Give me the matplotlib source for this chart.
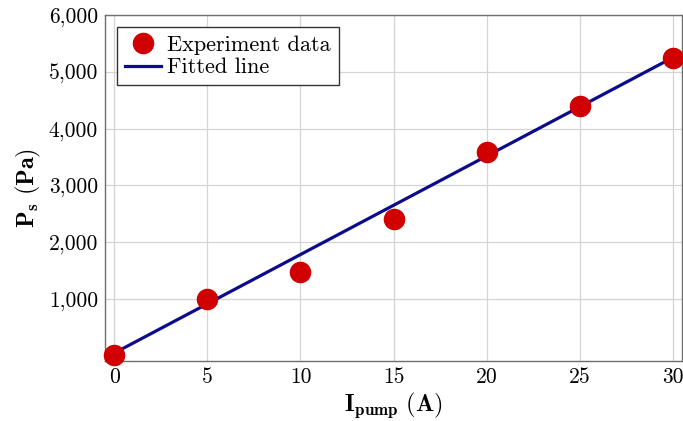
import numpy as np
import matplotlib
matplotlib.use("Agg")
import matplotlib.pyplot as plt
from matplotlib.ticker import FuncFormatter

# Измерения: ток насоса (А) и давление (Па)
current = [0, 5, 10, 15, 20, 25, 30]
pressure = [20, 1000, 1480, 2410, 3580, 4390, 5250]

# Аппроксимирующая прямая (значения на концах)
fit_x = [0, 30]
fit_y = [50, 5250]

x_ticks = [0, 5, 10, 15, 20, 25, 30]
y_ticks = [1000, 2000, 3000, 4000, 5000, 6000]

plt.rcParams['font.family'] = 'serif'
plt.rcParams['font.serif'] = ['cmr10', 'DejaVu Serif']
plt.rcParams['mathtext.fontset'] = 'cm'
plt.rcParams['axes.unicode_minus'] = False

fig = plt.figure(figsize=(6.83, 4.21), dpi=100)
ax = fig.add_axes([0.1537, 0.1425, 0.845, 0.822])

ax.plot(fit_x, fit_y, color='#0b0b8c', lw=2.3, label='Fitted line', zorder=3)
ax.plot(current, pressure, 'o', color='#d00000', ms=14.5, label='Experiment data',
        zorder=4, clip_on=False)

ax.set_xlim(-0.5, 30.5)
ax.set_ylim(-90, 6000)
ax.set_xticks(x_ticks)
ax.set_yticks(y_ticks)
ax.yaxis.set_major_formatter(FuncFormatter(lambda v, p: f'{int(v):,}'))
ax.tick_params(length=0, labelsize=15.5, pad=5)
ax.grid(color='#d4d4d4', lw=0.9)
ax.set_axisbelow(True)
for s in ax.spines.values():
    s.set_color('#6e6e6e')
    s.set_linewidth(1.0)

ax.set_xlabel(r'$\mathbf{I_{pump}}\ \mathbf{(A)}$', fontsize=17.5, labelpad=2)
ax.set_ylabel(r'$\mathbf{P_s}\ \mathbf{(Pa)}$', fontsize=17.5, labelpad=4)

h, l = ax.get_legend_handles_labels()
leg = ax.legend(h[::-1], l[::-1], loc='upper left', fontsize=16, fancybox=False,
                edgecolor='#333333', framealpha=1, borderpad=0.35,
                handlelength=1.6, handletextpad=0.3, labelspacing=0.15,
                borderaxespad=0.55)
leg.get_frame().set_linewidth(1.0)

fig.savefig('out.png', dpi=100)
